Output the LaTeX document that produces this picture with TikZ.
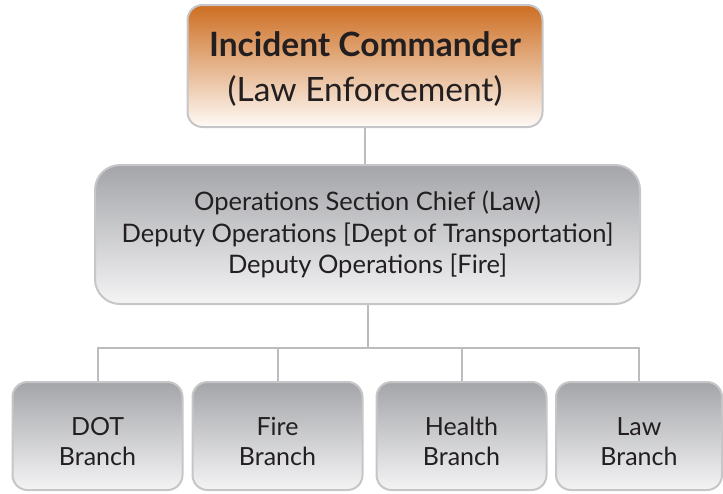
\documentclass[tikz,border=0pt]{standalone}
\usepackage{fontspec}
\setmainfont{Lato}
\usetikzlibrary{positioning}
\definecolor{orangetop}{RGB}{205,110,34}
\definecolor{orangebot}{RGB}{254,250,246}
\definecolor{greytop}{RGB}{164,165,169}
\definecolor{greybot}{RGB}{244,244,245}
\definecolor{boxline}{RGB}{198,198,200}
\definecolor{linkgrey}{RGB}{188,188,190}
\definecolor{ink}{RGB}{35,31,32}

\begin{document}
\begin{tikzpicture}[x=1pt,y=-1pt,
  box/.style={draw=boxline, line width=2pt, align=center, text=ink, inner sep=0pt},
  greybox/.style={box, top color=greytop, bottom color=greybot},
  branch/.style={greybox, rounded corners=15pt, minimum width=170pt, minimum height=108pt,
    text height=60pt, font=\fontsize{25}{30}\selectfont},
  link/.style={draw=linkgrey, line width=2pt}]
\useasboundingbox (0,0) rectangle (723,493);

\node[box, rounded corners=15pt, top color=orangetop, bottom color=orangebot,
  minimum width=355pt, minimum height=122pt, text height=76pt,
  font=\fontsize{33.5}{45}\selectfont]
  (ic) at (365,66) {\textbf{Incident Commander}\\(Law Enforcement)};

\node[greybox, rounded corners=25pt, minimum width=545pt, minimum height=139pt,
  font=\fontsize{25.5}{31.5}\selectfont] (ops) at (367.5,234.5)
  {Operations Section Chief (Law)\\Deputy Operations [Dept of Transportation]\\Deputy Operations [Fire]};

% branches
\node[branch] (dot) at (97.5,436) {DOT\\Branch};
\node[branch] (fire) at (277.5,436) {Fire\\Branch};
\node[branch] (health) at (461.5,436) {Health\\Branch};
\node[branch, minimum width=166pt] (law) at (639,436) {Law\\Branch};

\coordinate (bus) at (0,348);
\draw[link] (ic.south) -- (ic.south |- ops.north);
\foreach \b in {dot,fire,health,law}
  \draw[link] (ops.south) -- (ops.south |- bus) -| (\b.north);
\end{tikzpicture}
\end{document}
